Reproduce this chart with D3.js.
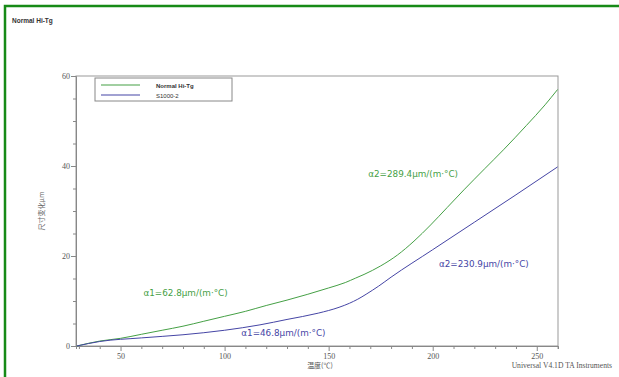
<!DOCTYPE html>
<html lang="zh">
<head>
<meta charset="utf-8">
<title>Normal Hi-Tg</title>
<script src="https://d3js.org/d3.v7.min.js"></script>
<style>
  body { margin: 0; background: #fff; }
  svg { display: block; }
</style>
</head>
<body>
<svg id="chart" width="619" height="377"></svg>
<script>
// data: [temperature °C, dimension change µm]
const normalHiTg = [[29,0],[40,1.1],[50,1.7],[60,2.6],[70,3.5],[80,4.4],[90,5.5],[100,6.6],[110,7.7],[120,9.0],[130,10.2],[140,11.5],[150,12.9],[158,14.1],[163,15.1],[167,15.9],[175,17.8],[183,20.2],[191,23.3],[199,26.9],[207,30.8],[215,34.7],[225,39.4],[234,43.6],[245,49],[254,53.6],[260,57]];
const s1000 = [[29,0],[40,1.0],[60,1.8],[80,2.5],[100,3.5],[117,4.7],[130,5.9],[145,7.3],[155,8.6],[160,9.5],[164,10.4],[168,11.5],[174,13.3],[180,15.3],[200,21.4],[220,27.5],[240,33.6],[260,39.8]];
const seriesNames = ["Normal Hi-Tg", "S1000-2"];
const xTicks = [50, 100, 150, 200, 250];
const yTicks = [0, 20, 40, 60];
const notes = [
  { text: "α1=62.8μm/(m·°C)", at: [61, 11.2], s: 0 },
  { text: "α1=46.8μm/(m·°C)", at: [108, 2.3], s: 1 },
  { text: "α2=289.4μm/(m·°C)", at: [169, 37.6], s: 0 },
  { text: "α2=230.9μm/(m·°C)", at: [203, 17.6], s: 1 }
];

const colors = ["#45a045", "#4545a5"];
const svg = d3.select("#chart");

// green outer frame
svg.append("path").attr("d", "M5,377V6H619")
  .attr("fill", "none").attr("stroke", "#178a17").attr("stroke-width", 2.5);

svg.append("text").attr("x", 12).attr("y", 23)
  .attr("font-family", "Liberation Sans, Arial").attr("font-size", 6.5).attr("font-weight", "bold")
  .attr("fill", "#333").text("Normal Hi-Tg");

const x = d3.scaleLinear().domain([28.6, 260.2]).range([76, 558]);
const y = d3.scaleLinear().domain([0, 60]).range([346, 76]);

// plot box
svg.append("rect").attr("x", 76).attr("y", 76).attr("width", 482).attr("height", 270)
  .attr("fill", "none").attr("stroke", "#999").attr("stroke-width", 1);

const tickFont = "Liberation Serif, serif";
const xAxis = svg.append("g").attr("transform", "translate(0,346)")
  .call(d3.axisBottom(x).tickValues(d3.range(30, 261, 10)).tickSize(3).tickFormat(d => xTicks.includes(d) ? d : ""));
const yAxis = svg.append("g").attr("transform", "translate(76,0)")
  .call(d3.axisLeft(y).tickValues(d3.range(0, 61, 5)).tickSize(3).tickFormat(d => yTicks.includes(d) ? d : ""));
[xAxis, yAxis].forEach(a => {
  a.select(".domain").attr("stroke", "#888");
  a.selectAll(".tick line").attr("stroke", "#888");
  a.selectAll("text").attr("font-family", tickFont).attr("font-size", 8).attr("fill", "#555");
});
xAxis.selectAll(".tick").filter(d => xTicks.includes(d)).select("line").attr("y2", 5);
yAxis.selectAll(".tick").filter(d => yTicks.includes(d)).select("line").attr("x2", -5);
xAxis.selectAll("text").attr("dy", "0.9em");

// axis titles
svg.append("text").attr("x", 320).attr("y", 368).attr("text-anchor", "middle")
  .attr("font-family", "Noto Sans CJK SC").attr("font-size", 7).attr("fill", "#555").text("温度(℃)");
svg.append("text").attr("transform", "translate(44,211) rotate(-90)").attr("text-anchor", "middle")
  .attr("font-family", "Noto Sans CJK SC").attr("font-size", 7).attr("fill", "#666").text("尺寸变化μm");
svg.append("text").attr("x", 612).attr("y", 368).attr("text-anchor", "end")
  .attr("font-family", "Liberation Serif, serif").attr("font-size", 7.6).attr("fill", "#555")
  .text("Universal V4.1D TA Instruments");

// curves
const line = d3.line().x(d => x(d[0])).y(d => y(d[1])).curve(d3.curveMonotoneX);
[normalHiTg, s1000].forEach((data, i) => {
  svg.append("path").datum(data).attr("d", line)
    .attr("fill", "none").attr("stroke", colors[i]).attr("stroke-width", 1);
});

// annotations
notes.forEach(n => {
  svg.append("text").attr("x", x(n.at[0])).attr("y", y(n.at[1]))
    .attr("font-family", "DejaVu Sans").attr("font-size", 8.8)
    .attr("fill", colors[n.s]).text(n.text);
});

// legend
const legend = svg.append("g").attr("transform", "translate(95,78)");
legend.append("rect").attr("width", 137).attr("height", 23)
  .attr("fill", "#fff").attr("stroke", "#888");
seriesNames.forEach((name, i) => {
  legend.append("line").attr("x1", 6).attr("x2", 45).attr("y1", 7 + i * 10).attr("y2", 7 + i * 10)
    .attr("stroke", colors[i]).attr("stroke-width", 1.2);
  legend.append("text").attr("x", 61).attr("y", 9.5 + i * 10)
    .attr("font-family", "Liberation Sans, Arial").attr("font-size", 6)
    .attr("font-weight", i === 0 ? "bold" : "normal").attr("fill", "#333").text(name);
});
</script>
</body>
</html>
